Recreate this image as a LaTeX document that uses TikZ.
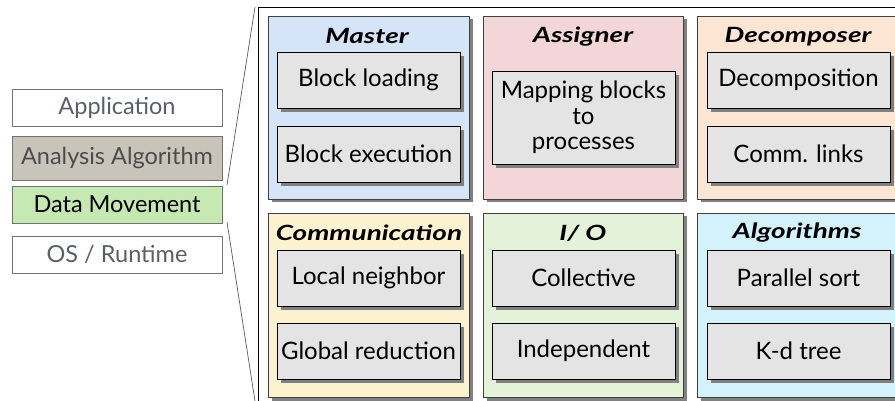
\documentclass[tikz,border=0pt]{standalone}
\usepackage{fontspec}
\usepackage{graphicx}
\setmainfont{Lato}
\usetikzlibrary{shadows}
\definecolor{cmaster}{HTML}{D6E4FA}
\definecolor{cassign}{HTML}{F3D7D8}
\definecolor{cdecomp}{HTML}{FDE5D4}
\definecolor{ccomm}{HTML}{FDF2D0}
\definecolor{cio}{HTML}{E4F2D9}
\definecolor{calgo}{HTML}{D4F2FC}
\definecolor{citem}{HTML}{E4E4E4}
\definecolor{canal}{HTML}{C9C4B9}
\definecolor{cdm}{HTML}{C6E8B2}
\definecolor{cgreytext}{HTML}{5A5F66}
\newcommand{\paneltitle}[1]{\scalebox{1.33}[1.0]{#1}}
\begin{document}
\begin{tikzpicture}[x=1pt,y=-1pt,
  layer/.style={draw=black!55, line width=0.8pt, anchor=north west, inner sep=0pt, outer sep=0pt,
    minimum width=210pt, minimum height=37pt, font=\fontsize{23.5}{26}\selectfont},
  panel/.style={draw=black!75, line width=0.8pt, anchor=north west, inner sep=0pt, outer sep=0pt,
    minimum width=201pt, minimum height=183pt,
    drop shadow={shadow xshift=3.5pt, shadow yshift=-3.5pt, fill=black!50, opacity=1}},
  item/.style={draw=black, line width=0.8pt, fill=citem, anchor=north west, inner sep=0pt, outer sep=0pt,
    minimum width=183pt, minimum height=56pt, align=center, font=\fontsize{24}{25.5}\selectfont,
    drop shadow={shadow xshift=4pt, shadow yshift=-4pt, fill=black!50, opacity=1}},
  ptitle/.style={font=\fontsize{21}{24}\selectfont\bfseries\itshape, inner sep=0pt},
  link/.style={draw=black!65, line width=0.7pt}
]
\useasboundingbox (0,0) rectangle (895,401);
\clip (0,0) rectangle (895,401);

% left stack
\node[layer, text=cgreytext] (app) at (12,89) {Application};
\node[layer, fill=canal, text=black!70, minimum height=44pt] (ana) at (12,136) {Analysis Algorithm};
\node[layer, fill=cdm, text=black] (dm) at (12,186) {Data Movement};
\node[layer, text=cgreytext] (os) at (12,236) {OS / Runtime};

% outer frame
\node[draw=black, line width=0.9pt, anchor=north west, minimum width=700pt, minimum height=500pt, inner sep=0pt, outer sep=0pt] (frame) at (258,7) {};

% zoom lines
\coordinate (l1a) at (227,185);
\coordinate (l1b) at (255,7);
\coordinate (l2a) at (227,222);
\coordinate (l2b) at (255,401);
\draw[link] (l1a) -- (l1b);
\draw[link] (l2a) -- (l2b);

% top row panels
\node[panel, fill=cmaster] (master) at (268,16) {};
\node[panel, fill=cassign, minimum width=200pt] (assign) at (483,16) {};
\node[panel, fill=cdecomp] (decomp) at (697,16) {};
% bottom row panels
\node[panel, fill=ccomm, minimum height=184pt] (comm) at (268,213) {};
\node[panel, fill=cio, minimum width=200pt, minimum height=184pt] (io) at (483,213) {};
\node[panel, fill=calgo, minimum height=184pt] (algo) at (697,213) {};

% titles
\node[ptitle] (tmaster) at (367,36) {\paneltitle{Master}};
\node[ptitle] (tassign) at (583,37) {\paneltitle{Assigner}};
\node[ptitle] (tdecomp) at (798,37) {\paneltitle{Decomposer}};
\node[ptitle] (tcomm) at (369,233) {\paneltitle{Communication}};
\node[ptitle] (tio) at (583,233) {\paneltitle{I/ O}};
\node[ptitle] (talgo) at (797,233) {\paneltitle{Algorithms}};

% items
\node[item] (bload) at (277,52) {Block loading};
\node[item] (bexec) at (277,126) {Block execution};
\node[item, minimum height=93pt] (mapping) at (492,71) {Mapping blocks\\to\\processes};
\node[item] (decomposition) at (707,52) {Decomposition};
\node[item] (links) at (707,126) {Comm. links};
\node[item] (local) at (277,250) {Local neighbor};
\node[item] (global) at (277,323) {Global reduction};
\node[item] (coll) at (492,250) {Collective};
\node[item] (indep) at (492,323) {Independent};
\node[item] (psort) at (707,250) {Parallel sort};
\node[item] (kd) at (707,323) {K-d tree};
\end{tikzpicture}
\end{document}
